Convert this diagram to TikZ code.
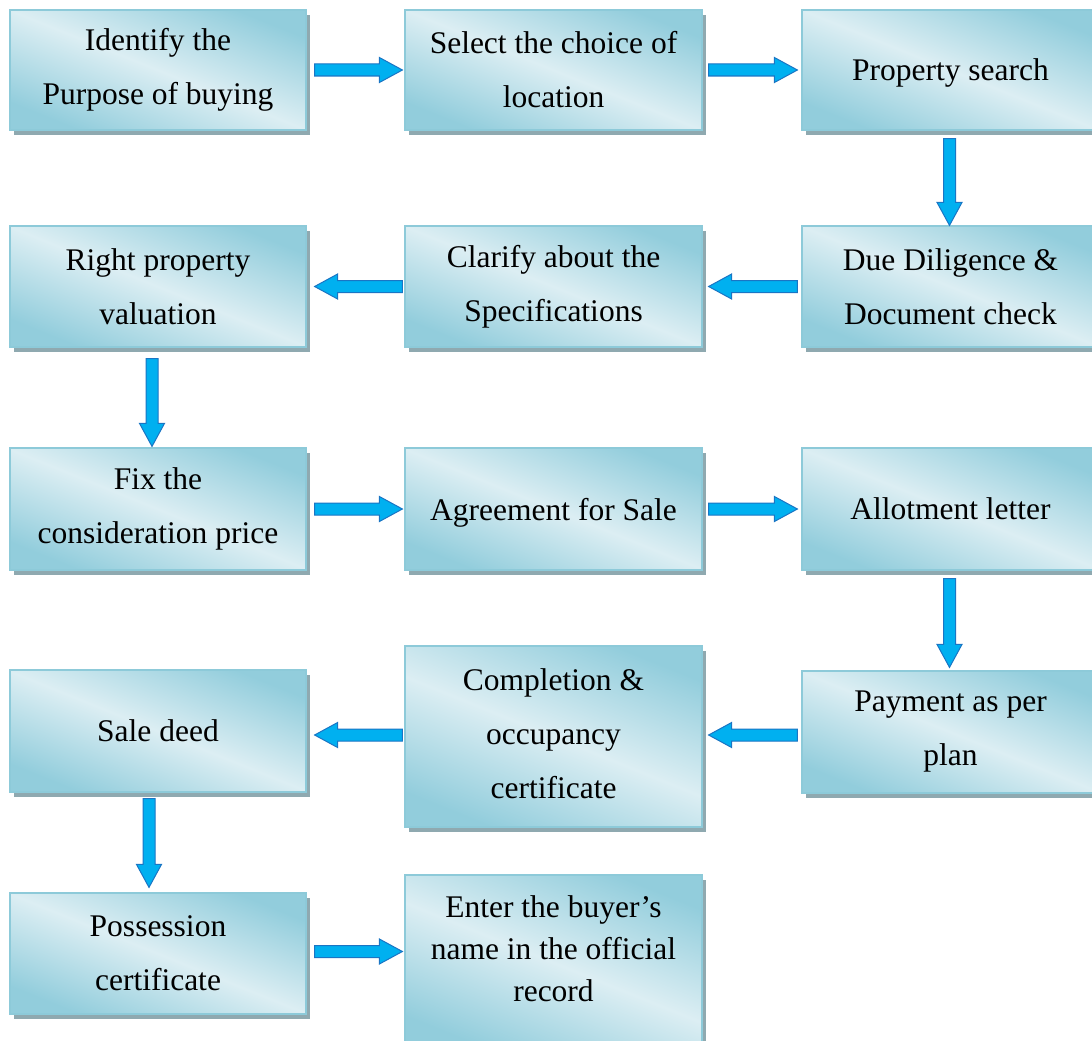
\documentclass[tikz,border=0pt]{standalone}
\usepackage{fontspec}
\setmainfont{Liberation Serif}
\usetikzlibrary{calc,shadows}
\definecolor{boxlight}{HTML}{DCEEF3}
\definecolor{boxdark}{HTML}{92CDDC}
\definecolor{boxline}{HTML}{8DCAD9}
\definecolor{shadowc}{HTML}{8FA9B0}
\definecolor{arrowfill}{HTML}{00B0F0}
\definecolor{arrowline}{HTML}{1A75C4}
\tikzset{
  stepbox/.style={draw=boxline, line width=1.2pt,
    top color=boxdark, bottom color=boxdark, middle color=boxlight, shading angle=-22,
    inner sep=0pt, align=center, font=\fontsize{31.5}{54}\selectfont,
    drop shadow={shadow xshift=4pt, shadow yshift=-5pt, fill=shadowc, opacity=1}},
  oneline/.style={text depth=0pt},
  flowarrow/.style={fill=arrowfill, draw=arrowline, line width=1pt, line join=miter},
}
\newcommand{\blockarrow}[2]{%
  \coordinate (hb) at ($(#2)!23pt!(#1)$);
  \draw[flowarrow] ($(#1)!6pt!90:(#2)$) -- ($(hb)!6pt!90:(#2)$) -- ($(hb)!12.5pt!90:(#2)$)
    -- (#2) -- ($(hb)!12.5pt!-90:(#2)$) -- ($(hb)!6pt!-90:(#2)$) -- ($(#1)!6pt!-90:(#2)$) -- cycle;
}
\begin{document}
\begin{tikzpicture}[x=1pt,y=-1pt]
\useasboundingbox (0,0) rectangle (1092,1041);
% row 1
\node[stepbox, minimum width=296pt, minimum height=120pt] (b1) at (158,70) {Identify the\\Purpose of buying};
\node[stepbox, minimum width=297pt, minimum height=120pt] (b2) at (553.5,70) {Select the choice of\\location};
\node[stepbox, oneline, minimum width=297pt, minimum height=120pt] (b3) at (950.5,70) {Property search};
% row 2
\node[stepbox, minimum width=297pt, minimum height=121pt] (b4) at (950.5,286.5) {Due Diligence \&\\Document check};
\node[stepbox, minimum width=297pt, minimum height=121pt] (b5) at (553.5,286.5) {Clarify about the\\Specifications};
\node[stepbox, minimum width=296pt, minimum height=121pt] (b6) at (158,286.5) {Right property\\valuation};
% row 3
\node[stepbox, minimum width=296pt, minimum height=122pt] (b7) at (158,509) {Fix the\\consideration price};
\node[stepbox, oneline, minimum width=297pt, minimum height=122pt] (b8) at (553.5,509) {Agreement for Sale};
\node[stepbox, oneline, minimum width=297pt, minimum height=122pt] (b9) at (950.5,509) {Allotment letter};
% row 4
\node[stepbox, minimum width=297pt, minimum height=122pt] (b10) at (950.5,732) {Payment as per\\plan};
\node[stepbox, minimum width=297pt, minimum height=181pt,
  label={[font=\fontsize{31.5}{54}\selectfont, align=center, yshift=3pt]center:{Completion \&\\occupancy\\certificate}}] (b11) at (553.5,736.5) {};
\node[stepbox, oneline, minimum width=296pt, minimum height=122pt] (b12) at (158,731) {Sale deed};
% row 5
\node[stepbox, minimum width=296pt, minimum height=121pt] (b13) at (158,953.5) {Possession\\certificate};
\node[stepbox, minimum width=297pt, minimum height=175pt,
  label={[font=\fontsize{31.5}{42}\selectfont, align=center, yshift=14pt]center:{Enter the buyer’s\\name in the official\\record}}] (b14) at (553.5,962.5) {};
% arrow end points
\coordinate (a1s) at ($(b1.east)+(8,0)$);   \coordinate (a1t) at ($(b2.west)+(-2,0)$);
\coordinate (a2s) at ($(b2.east)+(6,0)$);   \coordinate (a2t) at ($(b3.west)+(-4,0)$);
\coordinate (a3s) at ($(b3.south)+(-1,8)$); \coordinate (a3t) at ($(b4.north)+(-1,0)$);
\coordinate (a4s) at ($(b4.west)+(-4,0)$);  \coordinate (a4t) at ($(b5.east)+(6,0)$);
\coordinate (a5s) at ($(b5.west)+(-2,0)$);  \coordinate (a5t) at ($(b6.east)+(8,0)$);
\coordinate (a6s) at ($(b6.south)+(-6,11)$); \coordinate (a6t) at ($(b7.north)+(-6,-1)$);
\coordinate (a7s) at ($(b7.east)+(8,0)$);   \coordinate (a7t) at ($(b8.west)+(-2,0)$);
\coordinate (a8s) at ($(b8.east)+(6,0)$);   \coordinate (a8t) at ($(b9.west)+(-4,0)$);
\coordinate (a9s) at ($(b9.south)+(-1,8)$); \coordinate (a9t) at ($(b10.north)+(-1,-3)$);
\coordinate (a10s) at ($(b10.west)+(-4,3)$); \coordinate (a10t) at ($(b11.east)+(6,-1.5)$);
\coordinate (a11s) at ($(b11.west)+(-2,-1.5)$); \coordinate (a11t) at ($(b12.east)+(8,4)$);
\coordinate (a12s) at ($(b12.south)+(-9,6)$); \coordinate (a12t) at ($(b13.north)+(-9,-5)$);
\coordinate (a13s) at ($(b13.east)+(8,-2)$); \coordinate (a13t) at ($(b14.west)+(-2,-11)$);
\blockarrow{a1s}{a1t}
\blockarrow{a2s}{a2t}
\blockarrow{a3s}{a3t}
\blockarrow{a4s}{a4t}
\blockarrow{a5s}{a5t}
\blockarrow{a6s}{a6t}
\blockarrow{a7s}{a7t}
\blockarrow{a8s}{a8t}
\blockarrow{a9s}{a9t}
\blockarrow{a10s}{a10t}
\blockarrow{a11s}{a11t}
\blockarrow{a12s}{a12t}
\blockarrow{a13s}{a13t}
\end{tikzpicture}
\end{document}
